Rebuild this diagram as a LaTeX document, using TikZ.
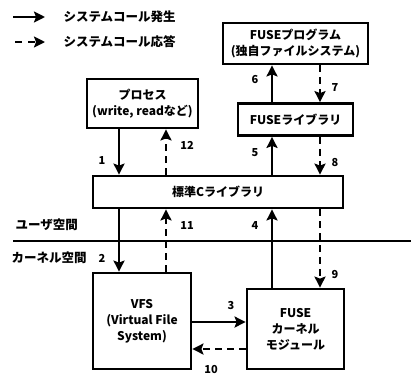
\documentclass[tikz,border=0pt]{standalone}
\usepackage{fontspec}
\setmainfont{Noto Sans CJK JP}
\usetikzlibrary{arrows.meta}

\tikzset{
  box/.style={draw, line width=2.8pt, align=center, inner sep=0pt,
    font=\bfseries\fontsize{12}{16}\selectfont},
  call/.style={line width=2.2pt, -{Stealth[length=11pt,width=11pt,inset=2pt]}},
  reply/.style={call, dash pattern=on 7pt off 5pt},
  num/.style={font=\bfseries\fontsize{11}{13}\selectfont},
  legtext/.style={anchor=west, font=\bfseries\fontsize{12.5}{15}\selectfont},
}

\begin{document}
\begin{tikzpicture}[x=1pt,y=-1pt]
  \useasboundingbox (0,0) rectangle (411,376);
  % legend
  \coordinate (callA) at (13,17);
  \coordinate (callB) at (45,17);
  \coordinate (replyA) at (15,42);
  \coordinate (replyB) at (45,42);
  \draw[call] (callA) -- (callB);
  \draw[reply, dash pattern=on 7pt off 6pt] (replyA) -- (replyB);
  \node[legtext] (legcall) at (60,17) {システムコール発生};
  \node[legtext] (legreply) at (60,42) {システムコール応答};

  % boxes
  \node[box, minimum width=145, minimum height=41] (fuseprog) at (295.5,43.5)
    {FUSEプログラム\\(独自ファイルシステム)};
  \node[box, minimum width=115, minimum height=32] (fuselib) at (295.5,119.5)
    {FUSEライブラリ};
  \node[box, minimum width=111, minimum height=49] (proc) at (142.5,103.5)
    {プロセス\\(write, readなど)};
  \node[box, minimum width=250, minimum height=32] (clib) at (218,192)
    {標準Cライブラリ};
  \node[box, minimum width=98, minimum height=96] (vfs) at (142,321)
    {VFS\\(Virtual File\\System)};
  \node[box, minimum width=97, minimum height=80] (fusek) at (295.5,329)
    {FUSE\\カーネル\\モジュール};

  % user / kernel
  \draw[line width=2.2pt] (13,241) -- (411,241);
  \node[legtext] (user) at (12,225) {ユーザ空間};
  \node[legtext] (kernel) at (8,258) {カーネル空間};

  % columns and rows
  \coordinate (colA) at (119,0);
  \coordinate (colB) at (166,0);
  \coordinate (colC) at (272,0);
  \coordinate (colD) at (320,0);
  \coordinate (rowE) at (0,322);
  \coordinate (rowF) at (0,349);

  % calls
  \draw[call] (proc.south -| colA) -- (clib.north -| colA);
  \draw[call] (clib.south -| colA) -- (vfs.north -| colA);
  \draw[call] (vfs.east |- rowE) -- (fusek.west |- rowE);
  \draw[call] (fusek.north -| colC) -- (clib.south -| colC);
  \draw[call] (clib.north -| colC) -- (fuselib.south -| colC);
  \draw[call] (fuselib.north -| colC) -- (fuseprog.south -| colC);
  % replies
  \draw[reply] (fuseprog.south -| colD) -- (fuselib.north -| colD);
  \draw[reply] (fuselib.south -| colD) -- (clib.north -| colD);
  \draw[reply] (clib.south -| colD) -- (fusek.north -| colD);
  \draw[reply] (fusek.west |- rowF) -- (vfs.east |- rowF);
  \draw[reply] (vfs.north -| colB) -- (clib.south -| colB);
  \draw[reply] (clib.north -| colB) -- (proc.south -| colB);

  % step numbers
  \node[num] (n1) at (102,160) {1};
  \node[num] (n2) at (102,258) {2};
  \node[num] (n3) at (231,305) {3};
  \node[num] (n4) at (255,225) {4};
  \node[num] (n5) at (255,153) {5};
  \node[num] (n6) at (255,80) {6};
  \node[num] (n7) at (335,88) {7};
  \node[num] (n8) at (335,162) {8};
  \node[num] (n9) at (335,274) {9};
  \node[num] (n10) at (211,369) {10};
  \node[num] (n11) at (187,225) {11};
  \node[num] (n12) at (187,145) {12};
\end{tikzpicture}
\end{document}
